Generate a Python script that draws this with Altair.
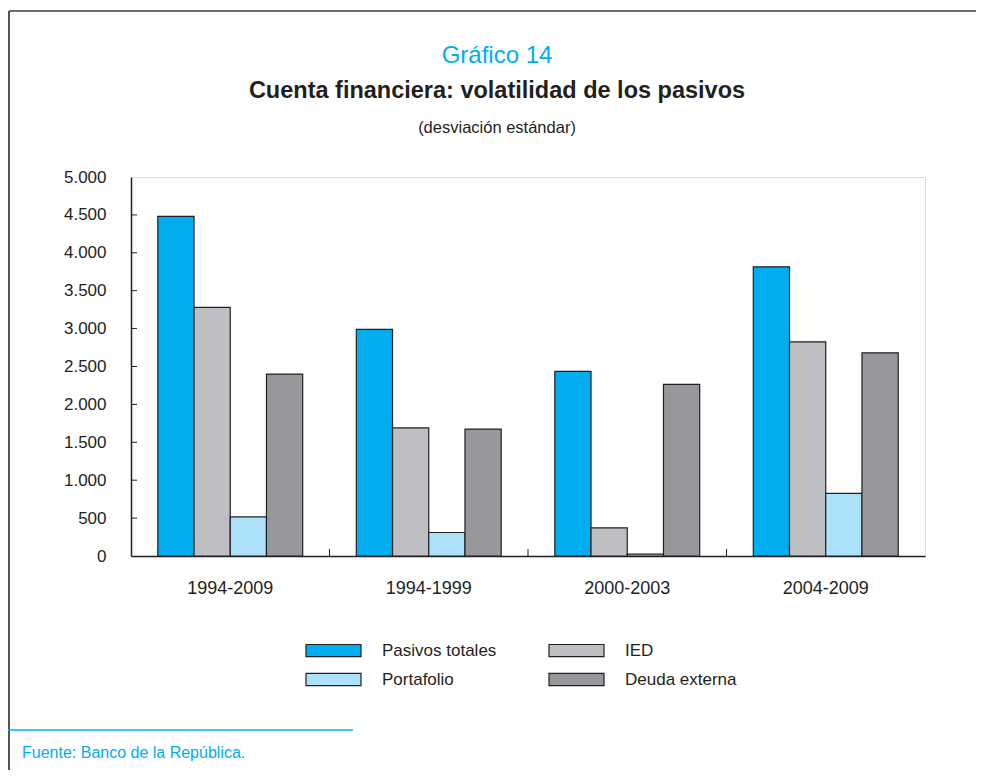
import altair as alt
import pandas as pd

periods = ["1994-2009", "1994-1999", "2000-2003", "2004-2009"]
series = ["Pasivos totales", "IED", "Portafolio", "Deuda externa"]
pasivos_totales = [4480, 2990, 2435, 3815]
ied = [3280, 1690, 370, 2825]
portafolio = [515, 310, 25, 825]
deuda_externa = [2400, 1675, 2265, 2680]
colors = ["#00AEEF", "#BEBFC3", "#ABE1FA", "#97989C"]
y_ticks = [500, 1000, 1500, 2000, 2500, 3000, 3500, 4000, 4500]

rows = []
for s, vals in zip(series, [pasivos_totales, ied, portafolio, deuda_externa]):
    for p, v in zip(periods, vals):
        rows.append({"period": p, "serie": s, "value": v})
df = pd.DataFrame(rows)

FONT = "Liberation Sans"
INK = "#231f20"
CYAN = "#00AEEF"
W, H = 794, 379

x_axis = alt.Axis(title=None, labelAngle=0, ticks=False, labelFontSize=18,
                  labelPadding=23, labelFont=FONT, labelColor=INK,
                  domainColor=INK, domainWidth=1.5)
y_axis = alt.Axis(title=None, values=[0] + y_ticks + [5000], ticks=False,
                  grid=False, labelFontSize=17, labelPadding=25,
                  labelFont=FONT, labelColor=INK, domainColor=INK,
                  domainWidth=1.5,
                  labelExpr="replace(format(datum.value, ','), ',', '.')")
x_scale = alt.Scale(paddingInner=0, paddingOuter=0)
y_scale = alt.Scale(domain=[0, 5000])

bars = alt.Chart(df).mark_bar(stroke=INK, strokeWidth=1.2).encode(
    x=alt.X("period:N", sort=periods, scale=x_scale, axis=x_axis),
    xOffset=alt.XOffset("serie:N", sort=series,
                        scale=alt.Scale(paddingInner=0, paddingOuter=0.74)),
    y=alt.Y("value:Q", scale=y_scale, axis=y_axis),
    color=alt.Color("serie:N", sort=series,
                    scale=alt.Scale(domain=series, range=colors),
                    legend=alt.Legend(title=None, orient="none", legendX=194, legendY=465,
                                      columns=2, direction="horizontal",
                                      symbolType="M-5,-1.1H5V1.1H-5Z",
                                      symbolSize=121, symbolStrokeColor=INK,
                                      symbolStrokeWidth=1.2, symbolOpacity=1,
                                      labelFontSize=17, labelFont=FONT, labelColor=INK,
                                      labelOffset=40, columnPadding=49, rowPadding=11,
                                      padding=0)),
)

ytick_layer = alt.Chart(pd.DataFrame({"value": y_ticks})).mark_rule(
    color=INK, strokeWidth=1).encode(
    y=alt.Y("value:Q", scale=y_scale, axis=y_axis), x=alt.value(0), x2=alt.value(6))

xtick_layer = alt.Chart(pd.DataFrame({"period": periods[1:]})).mark_rule(
    color=INK, strokeWidth=1).encode(
    x=alt.X("period:N", sort=periods, bandPosition=0, scale=x_scale, axis=x_axis),
    y=alt.value(H - 7), y2=alt.value(H))

def text(t, x, y, size, color=INK, weight="normal", align="center"):
    return alt.Chart().mark_text(text=t, fontSize=size, font=FONT, color=color,
                                 fontWeight=weight, align=align, baseline="middle").encode(
        x=alt.value(x), y=alt.value(y))

def rule(x, x2, y, y2, color, width):
    return alt.Chart().mark_rule(color=color, strokeWidth=width).encode(
        x=alt.value(x), x2=alt.value(x2), y=alt.value(y), y2=alt.value(y2))

cx = 497 - 131
annotations = [
    text("Gráfico 14", cx, 56 - 177, 24, color=CYAN),
    text("Cuenta financiera: volatilidad de los pasivos", cx, 91 - 177, 23.5, weight="bold"),
    text("(desviación estándar)", cx, 128 - 177, 16.5),
    text("Fuente: Banco de la República.", 22 - 131, 753 - 177, 16, color=CYAN, align="left"),
    rule(-122, 845, -166, -166, "#6d6d6d", 2.2),
    rule(-122, -122, -166, 600, "#555555", 2),
    rule(-123, 222, 553, 553, CYAN, 1.5),
]

chart = alt.layer(bars, ytick_layer, xtick_layer, *annotations).properties(
    width=W, height=H,
    autosize=alt.AutoSizeParams(type="none"),
    padding={"left": 123, "top": 169, "right": 51, "bottom": 214},
).configure_view(stroke="#555555", strokeWidth=1).configure(background="white")

chart.save("out.html", embed_options={"renderer": "svg", "actions": False})
